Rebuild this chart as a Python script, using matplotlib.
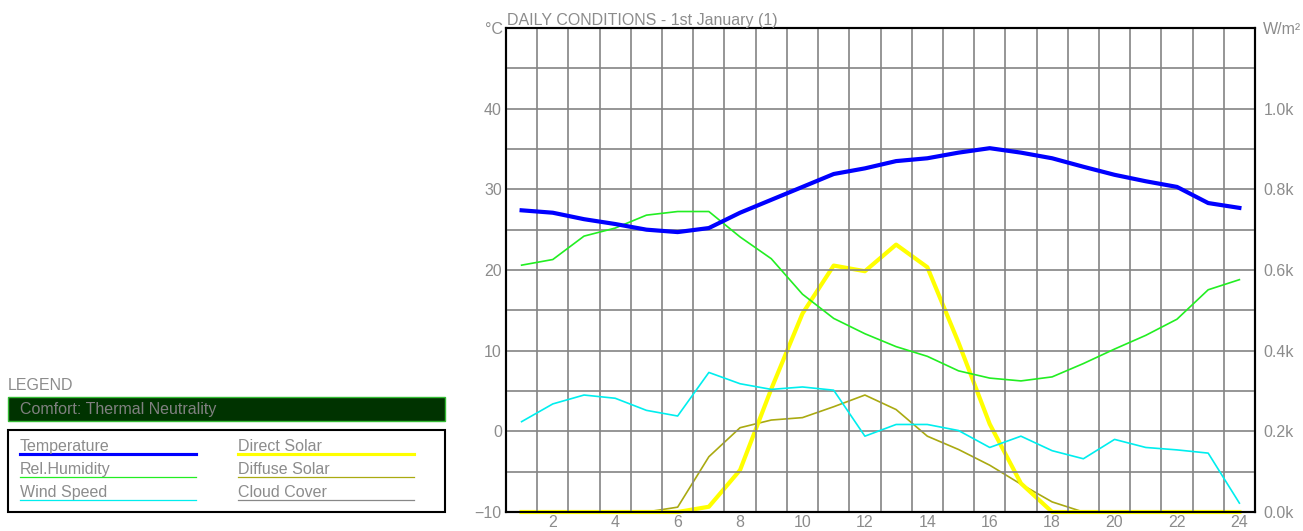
import matplotlib
matplotlib.use("Agg")
import matplotlib.pyplot as plt
from matplotlib.patches import Rectangle
from matplotlib.lines import Line2D

plt.rcParams['font.family'] = ['Liberation Sans', 'DejaVu Sans']

# Hourly values for the day
hours = list(range(1, 25))
temperature = [27.4, 27.1, 26.3, 25.7, 25.0, 24.7, 25.2, 27.1, 28.7, 30.3, 31.9, 32.6,
               33.5, 33.85, 34.55, 35.1, 34.55, 33.85, 32.8, 31.8, 31.0, 30.3, 28.3, 27.7]
rel_humidity = [20.6, 21.3, 24.2, 25.2, 26.8, 27.25, 27.25, 24.1, 21.4, 17.0, 14.0, 12.1,
                10.5, 9.3, 7.5, 6.6, 6.25, 6.75, 8.4, 10.2, 11.9, 13.9, 17.55, 18.8]
wind_speed = [1.2, 3.4, 4.5, 4.1, 2.6, 1.9, 7.3, 5.9, 5.2, 5.5, 5.1, -0.6,
              0.85, 0.85, 0.1, -2.0, -0.6, -2.4, -3.4, -1.0, -2.0, -2.3, -2.7, -8.9]
direct_solar = [0, 0, 0, 0, 0, 0, 13, 104, 305, 492, 611, 597,
                663, 607, 420, 218, 71, 0, 0, 0, 0, 0, 0, 0]
diffuse_solar = [0, 0, 0, 0, 0, 12, 137, 209, 228, 234, 261, 290,
                 254, 188, 155, 116, 69, 25, 0, 0, 0, 0, 0, 0]
cloud_cover = [0] * 24

left_ticks = [-10, 0, 10, 20, 30, 40]
right_ticks = [0, 200, 400, 600, 800, 1000]
right_labels = ['0.0k', '0.2k', '0.4k', '0.6k', '0.8k', '1.0k']
x_ticks = list(range(2, 25, 2))

legend_entries = [
    ("Temperature", "#0000ff", 3.0),
    ("Rel.Humidity", "#22ee22", 1.2),
    ("Wind Speed", "#00eeee", 1.2),
    ("Direct Solar", "#ffff00", 3.0),
    ("Diffuse Solar", "#aaaa11", 1.2),
    ("Cloud Cover", "#888888", 1.2),
]

TXT = '#8c8c8c'
FS = 11.5
W, H = 1303, 531

fig = plt.figure(figsize=(W / 100, H / 100), dpi=100)
ax = fig.add_axes([506 / W, 1 - 512 / H, (1255 - 506) / W, (512 - 28) / H])
ax2 = ax.twinx()

ax.set_xlim(0.5, 24.5)
ax.set_ylim(-10, 50)
ax2.set_ylim(0, 1200)

# grid: vertical between hours, horizontal every 5 degrees
for gx in [h + 0.5 for h in range(1, 24)]:
    ax.axvline(gx, color='#848484', lw=1.2, zorder=0)
for gy in range(-5, 50, 5):
    ax.axhline(gy, color='#848484', lw=1.2, zorder=0)

ax.set_xticks(x_ticks)
ax.set_yticks(left_ticks)
ax2.set_yticks(right_ticks)
ax2.set_yticklabels(right_labels)
ax.tick_params(axis='both', length=0, labelsize=FS, labelcolor=TXT)
ax.tick_params(axis='y', pad=3)
ax.tick_params(axis='x', pad=2)
ax2.tick_params(axis='y', length=0, labelsize=FS, labelcolor=TXT, pad=6)

for a in (ax, ax2):
    for s in a.spines.values():
        s.set_color('black')
        s.set_linewidth(1.5)

ax2.plot(hours, cloud_cover, color='#888888', lw=1.2, zorder=2, clip_on=False)
ax2.plot(hours, diffuse_solar, color='#aaaa11', lw=1.2, zorder=3, clip_on=False)
ax.plot(hours, wind_speed, color='#00eeee', lw=1.2, zorder=3)
ax.plot(hours, rel_humidity, color='#22ee22', lw=1.2, zorder=4)
ax2.plot(hours, direct_solar, color='#ffff00', lw=3.0, zorder=5, clip_on=False)
ax.plot(hours, temperature, color='#0000ff', lw=3.0, zorder=6)
ax.set_zorder(ax2.get_zorder() + 1)
ax.patch.set_visible(False)

def fx(px):
    return px / W

def fy(py):
    return 1 - py / H

fig.text(fx(507), fy(25), "DAILY CONDITIONS - 1st January (1)", color=TXT,
         fontsize=FS, ha='left', va='baseline')
fig.text(fx(503), fy(34), "°C", color=TXT, fontsize=FS, ha='right', va='baseline')
fig.text(fx(1263), fy(34), "W/m²", color=TXT, fontsize=FS, ha='left', va='baseline')

# legend panel
fig.text(fx(8), fy(390), "LEGEND", color=TXT, fontsize=FS, ha='left', va='baseline')
fig.patches.append(Rectangle((fx(8), fy(421)), fx(437), 24 / H, transform=fig.transFigure,
                             facecolor='#003300', edgecolor='#33bb33', lw=1.0))
fig.text(fx(20), fy(414), "Comfort: Thermal Neutrality", color='#808080',
         fontsize=FS, ha='left', va='baseline')
fig.patches.append(Rectangle((fx(8), fy(512)), fx(437), 82 / H, transform=fig.transFigure,
                             facecolor='white', edgecolor='black', lw=1.5))

col_x = [20, 238]
row_y = [451, 474, 497]
for i, (name, color, lw) in enumerate(legend_entries):
    c, r = divmod(i, 3)
    x0 = col_x[c]
    y0 = row_y[r]
    fig.text(fx(x0), fy(y0), name, color=TXT, fontsize=FS, ha='left', va='baseline')
    fig.lines.append(Line2D([fx(x0), fx(x0 + 176)], [fy(y0 + 2.5), fy(y0 + 2.5)],
                            transform=fig.transFigure, color=color, lw=lw * 0.75))

fig.savefig("out.png", dpi=100)
